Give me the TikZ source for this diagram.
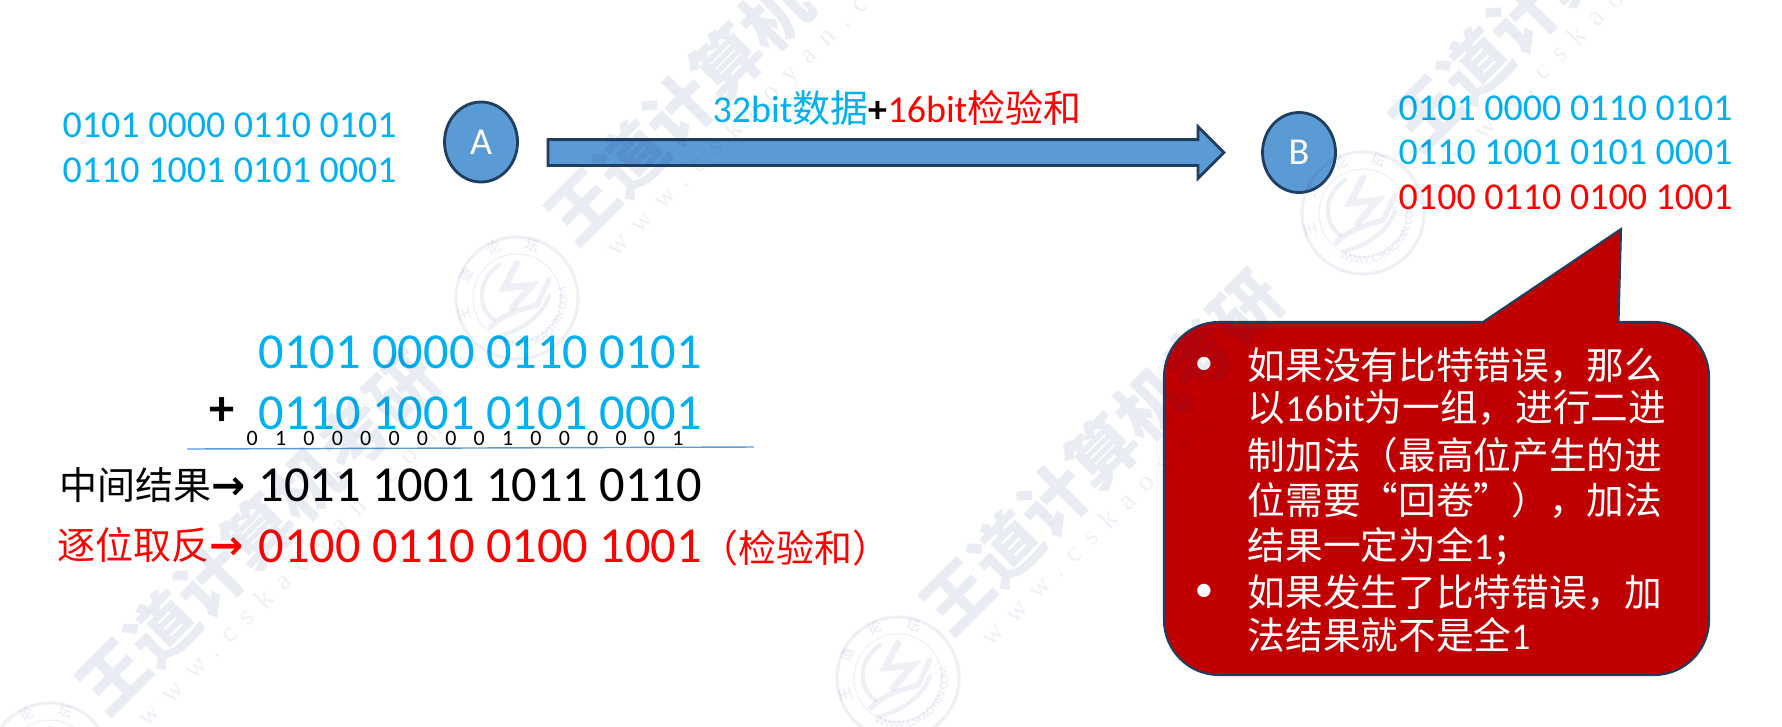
\documentclass[tikz,border=0pt]{standalone}
\usepackage{fontspec}
\setmainfont{Carlito}
\newfontfamily\cjk{Noto Sans CJK SC}
\newfontfamily\arrowfont{DejaVu Sans}
\newfontfamily\wwwfont[LetterSpace=46]{Liberation Serif}
\usepackage{xcolor}
\usepackage{tikz}
\usetikzlibrary{shapes.geometric, shapes.arrows, decorations.text}

\definecolor{bitblue}{HTML}{00B0F0}
\definecolor{bitred}{HTML}{FF0000}
\definecolor{boxblue}{HTML}{5B9BD5}
\definecolor{boxline}{HTML}{1F3F60}
\definecolor{boxred}{HTML}{C00000}
\definecolor{markcolor}{HTML}{1A2A7A}

\tikzset{
    bits/.style={inner sep=0pt, anchor=base west, font=\fontsize{10.81}{13}\selectfont},
    bigbits/.style={inner sep=0pt, anchor=base west, font=\fontsize{14.35}{17}\selectfont},
    host/.style={ellipse, draw=boxline, line width=0.8pt, fill=boxblue, text=white, inner sep=0pt,
        minimum height=0.80cm, font=\fontsize{10.81}{13}\selectfont},
    bubbletext/.style={inner sep=0pt, anchor=base west, text=white, font=\fontsize{10.72}{13}\selectfont},
    bigmark/.style={markcolor, text opacity=0.09, rotate=45, inner sep=0pt,
        font=\cjk\bfseries\fontsize{19.35}{23}\selectfont},
    smallmark/.style={markcolor, text opacity=0.07, rotate=45, inner sep=0pt,
        font=\wwwfont\fontsize{7.97}{10}\selectfont}
}

\newcommand{\calcarrow}{{\arrowfont\bfseries\fontsize{11.6}{13}\selectfont →}}

\begin{document}
\begin{tikzpicture}
    \useasboundingbox (0,0) rectangle (17.82,7.26);

    % sender side
    \node[bits, text=bitblue]  (Aone)  at ( 0.62, 5.89)  {0101 0000 0110 0101};
    \node[bits, text=bitblue]  (Atwo)  at ( 0.62, 5.44)  {0110 1001 0101 0001};
    \node[host, minimum width=0.73cm]  (A)  at ( 4.81, 5.84)  {A};

    % block arrow
    \node[single arrow, draw=boxline, line width=0.8pt, fill=boxblue, inner xsep=0pt, inner ysep=0.115cm,
        minimum height=6.76cm, minimum width=0.49cm, single arrow head extend=0.13cm]
        (send)  at ( 8.795, 5.735)  {};
    \node[bits]  (label)  at ( 7.12, 6.04)
        {\textcolor{bitblue}{32bit{\cjk 数据}}\textbf{+}\textcolor{bitred}{16bit{\cjk 检验和}}};

    % receiver side
    \node[host, minimum width=0.73cm]  (B)  at (12.99, 5.735)  {B};
    \node[bits, text=bitblue]  (Bone)  at (13.98, 6.06)  {0101 0000 0110 0101};
    \node[bits, text=bitblue]  (Btwo)  at (13.98, 5.62)  {0110 1001 0101 0001};
    \node[bits, text=bitred]   (Bsum)  at (13.98, 5.17)  {0100 0110 0100 1001};

    % the addition
    \node[bigbits, text=bitblue]  (addone)  at ( 2.58, 3.58)  {0101 0000 0110 0101};
    \node[bigbits, text=bitblue]  (addtwo)  at ( 2.58, 2.97)  {0110 1001 0101 0001};
    \node[bigbits, anchor=center] (plus)    at ( 2.22, 3.14)  {\textbf{+}};
    \node[inner sep=0pt, anchor=base west, font=\fontsize{6.26}{8}\selectfont]
        (carry)  at ( 2.46, 2.81)  {\spaceskip=4.90pt 0 1 0 0 0 0 0 0 0 1 0 0 0 0 0 1};
    \coordinate (ruleL) at ( 1.87, 2.77);
    \coordinate (ruleR) at ( 7.54, 2.79);
    \draw[boxblue, line width=0.4pt] (ruleL) -- (ruleR);

    \node[bits]  (midname)   at ( 0.59, 2.27)  {{\cjk 中间结果}\calcarrow};
    \node[bigbits]  (midbits)   at ( 2.58, 2.25)  {1011 1001 1011 0110};
    \node[bits, text=bitred]  (notname)   at ( 0.57, 1.67)  {{\cjk 逐位取反}\calcarrow};
    \node[bigbits, text=bitred]  (notbits)   at ( 2.58, 1.64)  {0100 0110 0100 1001};
    \node[bits, text=bitred]  (sumname)   at ( 7.00, 1.64)  {\cjk （检验和）};

    % callout
    \coordinate (tip) at (16.21, 4.97);
    \draw[fill=boxred, draw=boxline, line width=0.6pt] (14.83,4.04) -- (tip) -- (16.185,4.04) -- (16.54,4.04)
        arc[start angle=90, end angle=0, radius=0.55] -- (17.09,1.06)
        arc[start angle=0, end angle=-90, radius=0.55] -- (12.19,0.51)
        arc[start angle=270, end angle=180, radius=0.55] -- (11.64,3.49)
        arc[start angle=180, end angle=90, radius=0.55] -- cycle;

    \node[bubbletext, anchor=center]  (dotone)  at (12.04, 3.60)  {•};
    \node[bubbletext, anchor=center]  (dottwo)  at (12.04, 1.33)  {•};
    \node[bubbletext]  (lineone)    at (12.47, 3.47)  {\cjk 如果没有比特错误，那么};
    \node[bubbletext]  (linetwo)    at (12.47, 3.05)  {{\cjk 以}16bit{\cjk 为一组，进行二进}};
    \node[bubbletext]  (linethree)  at (12.47, 2.57)  {\cjk 制加法（最高位产生的进};
    \node[bubbletext]  (linefour)   at (12.47, 2.12)  {\cjk 位需要“回卷”），加法};
    \node[bubbletext]  (linefive)   at (12.47, 1.67)  {{\cjk 结果一定为全}1{\cjk ；}};
    \node[bubbletext]  (linesix)    at (12.47, 1.20)  {\cjk 如果发生了比特错误，加};
    \node[bubbletext]  (lineseven)  at (12.47, 0.77)  {{\cjk 法结果就不是全}1};

    % watermark
    \foreach \x/\y/\n in {2.58/1.94/a, 7.27/6.64/b, 11.02/2.74/c, 15.71/7.57/d} {
        \node[bigmark]    (mark\n)  at (\x, \y)  {王道计算机考研};
        \node[smallmark]  (www\n)   at (\x+0.33, \y-0.43)  {www.cskaoyan.com};
    }
    \foreach \x/\y in {0.50/-0.38, 5.17/4.28, 8.98/0.48, 13.63/5.13} {
        \begin{scope}[shift={(\x,\y)}, draw=markcolor, draw opacity=0.07, line cap=round]
            \draw[line width=0.9pt] (0,0) circle (0.61);
            \draw[line width=0.3pt] (0,0) circle (0.44);
            \draw[line width=1.9pt] (0,0.35) -- (-0.13,0.10) -- (0.15,0.13) -- (-0.05,-0.10);
            \draw[line width=1.2pt] (-0.18,0.33) .. controls (-0.40,0.18) and (-0.40,-0.10) .. (-0.23,-0.22);
            \draw[line width=1.5pt] (-0.27,-0.30) .. controls (-0.12,-0.14) and (0.05,-0.12) .. (0.20,-0.07) -- (0.32,0.18);
            \draw[line width=1.2pt] (-0.18,-0.38) .. controls (0.05,-0.32) and (0.25,-0.18) .. (0.32,0.02);
            \begin{scope}[transparency group, opacity=0.1]
                \path[decorate, decoration={text along path, text align=center,
                    text={|\fontsize{3.4}{4}\selectfont\color{markcolor}|WWW.CSKAOYAN.COM}}]
                    (245:0.50) arc[start angle=245, end angle=370, radius=0.50];
                \path[decorate, decoration={text along path, text align=fit to path,
                    text={|\cjk\fontsize{4}{5}\selectfont\color{markcolor}|王道论坛}}]
                    (205:0.50) arc[start angle=205, end angle=65, radius=0.50];
            \end{scope}
        \end{scope}
    }
\end{tikzpicture}
\end{document}
